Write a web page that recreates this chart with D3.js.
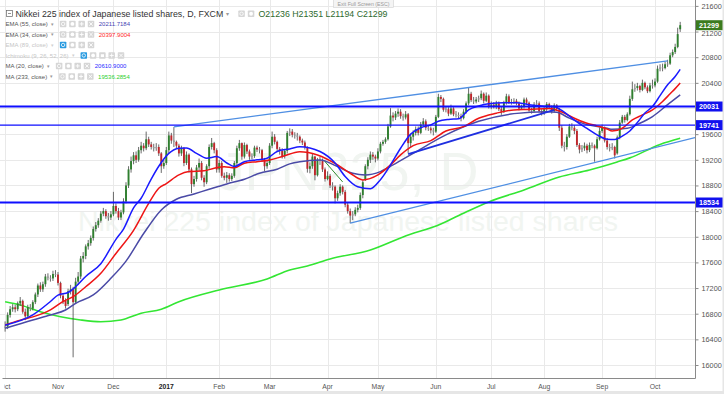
<!DOCTYPE html>
<html><head><meta charset="utf-8">
<script src="https://cdn.jsdelivr.net/npm/d3@7"></script>
<style>body{margin:0;background:#fff;}svg{display:block;font-family:"Liberation Sans",Arial,sans-serif;}</style>
</head><body><svg id="c" width="724" height="394"></svg>
<script>
// ---------------- DATA ----------------
const firstDay = "2016-10-03", lastDay = "2017-10-16";
const closedDays = ["2016-12-26", "2017-01-02"];

const opens = [
16580,16600,16780,16870,16900,16870,16960,17000,16830,16760,16900,16880,16980,17100,17240,17180,17260,17380,17360,17350,17420,
17410,17280,17080,17000,16950,17150,17180,16980,17300,17380,17660,17700,17850,17900,17980,18120,18180,18250,18360,18400,18320,18300,
18350,18480,18400,18300,18380,18550,18800,19050,19180,19270,19200,19350,19420,19380,19520,19440,19400,19380,19400,19300,19100,
19150,19350,19580,19500,19480,19420,19300,19380,19150,19280,19050,18820,18900,19080,19150,18920,18850,19100,19400,19460,19350,
19050,19150,18950,18920,18960,18900,18950,19150,19380,19460,19250,19430,19330,19250,19260,19390,19360,19350,19200,19100,
19150,19420,19560,19480,19370,19340,19260,19340,19620,19640,19590,19580,19560,19500,19470,19400,19060,19100,19250,18960,19200,19180,19050,
18900,18950,18800,18780,18600,18680,18780,18700,18500,18400,18330,18350,18420,18450,18650,18900,19100,19200,19280,19250,
19220,19330,19450,19480,19520,19720,19890,19860,19920,19950,19880,19860,19910,19460,19560,19620,19680,19620,19750,19800,19700,19690,19660,
19640,19870,20180,20150,19980,19990,19920,20000,19910,19900,19880,19850,19950,20080,20230,20130,20110,20140,20160,20230,20120,20200,
20030,20060,20030,20080,19990,19950,20090,20190,20100,20100,20120,20080,20000,20030,20140,20090,19970,19960,20060,20080,19960,
19930,19990,20070,20020,19960,20050,19990,19700,19420,19400,19560,19720,19700,19650,19430,19360,19380,19420,19350,19430,19420,19380,19520,
19650,19700,19500,19400,19380,19400,19300,19550,19780,19870,19820,19910,20150,20300,20320,20350,20290,20400,20330,20270,20360,
20360,20420,20620,20640,20630,20690,20700,20830,20880,20960,21236];
const highs = [
16680,16820,16920,16950,16940,16990,17060,17020,16880,16940,16950,17010,17130,17270,17290,17300,17420,17430,17400,17470,17480,
17450,17300,17120,17040,17190,17250,17220,17360,17450,17700,17760,17880,17950,18020,18160,18230,18290,18400,18450,18430,18370,18400,
18700,18520,18450,18420,18600,18850,19100,19250,19320,19330,19400,19480,19460,19640,19560,19480,19450,19460,19440,19320,19200,
19400,19640,19620,19710,19500,19450,19420,19400,19330,19300,19080,18950,19120,19220,19180,18960,19130,19440,19540,19480,19380,
19200,19180,19000,19010,18990,18990,19180,19420,19510,19470,19470,19450,19360,19300,19420,19420,19400,19370,19230,19190,
19460,19640,19600,19500,19400,19380,19370,19650,19690,19680,19630,19620,19580,19530,19500,19410,19160,19290,19260,19230,19250,19220,19080,
19020,18980,18850,18800,18720,18820,18800,18730,18540,18440,18400,18460,18500,18690,18880,19130,19240,19330,19320,19280,
19380,19480,19510,19550,19760,20005,19940,19960,20000,19990,19920,19960,19930,19600,19660,19720,19720,19790,19850,19830,19740,19720,19700,
19900,20230,20210,20170,20030,20020,20060,20020,19960,19940,19920,19990,20110,20320,20260,20180,20180,20200,20280,20250,20250,20220,
20110,20100,20120,20110,20030,20120,20230,20220,20150,20160,20150,20110,20060,20170,20170,20110,20010,20100,20130,20110,19990,
20030,20100,20090,20050,20080,20070,20010,19740,19480,19600,19760,19770,19740,19680,19460,19430,19470,19450,19470,19470,19440,19560,19700,
19750,19720,19540,19450,19460,19420,19580,19820,19900,19900,19940,20200,20420,20380,20400,20370,20450,20420,20360,20400,20450,
20470,20670,20690,20700,20730,20760,20870,20920,21010,21260,21351];
const lows = [
16520,16560,16740,16830,16820,16840,16920,16800,16700,16730,16840,16850,16950,17060,17140,17140,17220,17320,17300,17310,17370,
17240,17040,16950,16880,16920,17100,16120,16950,17250,17340,17600,17650,17800,17860,17940,18080,18140,18220,18320,18280,18250,18260,
18320,18360,18260,18260,18350,18520,18760,19000,19130,19150,19170,19300,19330,19350,19400,19360,19330,19340,19260,18995,19060,
19120,19300,19450,19400,19380,19250,19260,19100,19120,19000,18680,18780,18860,19030,18880,18780,18820,19060,19360,19300,19000,
19000,18920,18880,18840,18860,18870,18920,19120,19340,19200,19220,19290,19200,19210,19230,19320,19300,19170,19020,19060,
19120,19380,19440,19330,19280,19220,19220,19300,19570,19550,19530,19500,19460,19430,19360,19000,18990,19060,18880,18940,19120,19010,18860,
18880,18760,18720,18520,18560,18640,18660,18460,18360,18211,18260,18320,18380,18420,18600,18870,19050,19150,19200,19160,
19190,19300,19420,19450,19500,19700,19800,19820,19870,19840,19810,19830,19300,19400,19500,19580,19580,19600,19720,19660,19650,19610,19580,
19620,19850,20100,19950,19940,19880,19900,19880,19860,19840,19800,19830,19920,20050,20100,20070,20080,20100,20130,20080,20100,20000,
19990,20000,19990,19960,19900,19930,20060,20070,20060,20070,20050,19970,19980,20000,20060,19950,19920,19940,20030,19940,19890,
19900,19960,19990,19920,19940,19960,19650,19380,19330,19360,19540,19660,19600,19400,19300,19320,19340,19300,19320,19380,19170,19360,19500,
19620,19470,19360,19330,19350,19220,19280,19520,19760,19780,19800,19890,20120,20260,20280,20250,20270,20300,20240,20250,20310,
20330,20400,20580,20580,20610,20650,20680,20800,20850,20940,21194];
const closes = [
16600,16780,16870,16900,16870,16960,17000,16830,16760,16900,16880,16980,17100,17240,17180,17260,17380,17360,17350,17420,17410,
17280,17080,17000,16920,17150,17180,16980,17300,17380,17660,17700,17850,17900,17980,18120,18180,18250,18360,18400,18320,18300,18350,
18480,18400,18300,18380,18550,18800,19050,19180,19270,19200,19350,19420,19380,19520,19440,19400,19380,19400,19300,19100,19150,
19350,19580,19500,19480,19420,19300,19380,19150,19280,19050,18820,18900,19080,19150,18920,18850,19100,19400,19460,19350,19050,
19150,18950,18920,18960,18900,18950,19150,19380,19460,19250,19430,19330,19250,19260,19390,19360,19350,19200,19100,19150,
19420,19560,19480,19370,19340,19260,19340,19620,19640,19590,19580,19560,19500,19470,19400,19060,19100,19250,18960,19200,19180,19050,18900,
18950,18800,18780,18600,18680,18780,18700,18500,18400,18330,18350,18420,18450,18650,18850,19100,19200,19280,19250,19220,
19330,19450,19480,19520,19720,19890,19860,19920,19950,19880,19860,19910,19460,19560,19620,19680,19620,19750,19800,19700,19690,19660,19640,
19870,20180,20150,19980,19990,19920,20000,19910,19900,19880,19850,19950,20080,20230,20130,20110,20140,20160,20230,20120,20200,20030,
20060,20030,20080,19990,19950,20090,20190,20100,20100,20120,20080,20000,20030,20140,20090,19970,19960,20060,20080,19960,19930,
19990,20070,20020,19960,20050,19990,19700,19420,19400,19560,19720,19700,19650,19430,19360,19380,19420,19350,19430,19420,19380,19520,19650,
19700,19500,19400,19380,19400,19270,19550,19780,19870,19820,19910,20150,20300,20320,20350,20290,20400,20330,20270,20360,20360,
20420,20620,20640,20630,20690,20700,20830,20880,20960,21160,21299];

// indicator lines: [date, value]
const ma20 = [["2016-10-03",16620],["2016-10-18",16780],["2016-10-27",16990],["2016-11-01",17090],["2016-11-07",17130],["2016-11-10",17220],["2016-11-16",17380],["2016-11-24",17580],["2016-12-02",17960],["2016-12-07",18120],["2016-12-13",18450],["2016-12-16",18600],["2016-12-22",18900],["2016-12-28",19100],["2017-01-04",19300],["2017-01-10",19380],["2017-01-13",19385],["2017-01-19",19300],["2017-01-25",19225],["2017-01-31",19250],["2017-02-06",19150],["2017-02-09",19095],["2017-02-15",19170],["2017-02-22",19200],["2017-02-28",19225],["2017-03-06",19330],["2017-03-13",19370],["2017-03-17",19405],["2017-03-29",19330],["2017-04-06",19150],["2017-04-12",18940],["2017-04-19",18780],["2017-04-26",18750],["2017-05-02",18890],["2017-05-08",19120],["2017-05-12",19380],["2017-05-18",19600],["2017-05-24",19700],["2017-05-30",19745],["2017-06-02",19800],["2017-06-08",19830],["2017-06-14",19840],["2017-06-20",19980],["2017-06-26",20040],["2017-06-30",20075],["2017-07-10",20090],["2017-07-17",20090],["2017-07-24",20060],["2017-07-31",20040],["2017-08-07",20030],["2017-08-10",19970],["2017-08-15",19880],["2017-08-18",19790],["2017-08-24",19690],["2017-08-30",19590],["2017-09-05",19520],["2017-09-08",19515],["2017-09-13",19570],["2017-09-18",19650],["2017-09-21",19780],["2017-09-26",19930],["2017-09-29",20030],["2017-10-04",20200],["2017-10-09",20370],["2017-10-12",20500],["2017-10-16",20611]];
const ema34 = [["2016-10-03",16624],["2016-10-11",16700],["2016-10-18",16750],["2016-10-27",16860],["2016-11-03",16990],["2016-11-09",17065],["2016-11-16",17220],["2016-11-24",17430],["2016-12-02",17740],["2016-12-13",18100],["2016-12-21",18520],["2016-12-28",18756],["2017-01-03",18830],["2017-01-10",18964],["2017-01-16",19016],["2017-01-24",19030],["2017-01-30",19068],["2017-02-03",19093],["2017-02-09",19075],["2017-02-15",19147],["2017-02-22",19171],["2017-03-01",19198],["2017-03-08",19250],["2017-03-17",19327],["2017-03-28",19276],["2017-04-07",19120],["2017-04-14",18990],["2017-04-21",18886],["2017-05-01",18964],["2017-05-08",19120],["2017-05-12",19276],["2017-05-19",19420],["2017-05-30",19500],["2017-06-07",19650],["2017-06-16",19717],["2017-06-26",19848],["2017-07-05",19926],["2017-07-14",19978],["2017-07-24",19985],["2017-08-03",20000],["2017-08-09",19960],["2017-08-15",19890],["2017-08-17",19848],["2017-08-24",19770],["2017-08-30",19728],["2017-09-05",19680],["2017-09-07",19650],["2017-09-13",19692],["2017-09-19",19822],["2017-09-25",19900],["2017-09-29",19978],["2017-10-05",20110],["2017-10-10",20230],["2017-10-12",20310],["2017-10-16",20398]];
const ema55 = [["2016-10-03",16572],["2016-10-18",16702],["2016-10-27",16780],["2016-11-04",16858],["2016-11-10",16962],["2016-11-21",17092],["2016-11-30",17352],["2016-12-08",17620],["2016-12-19",18050],["2016-12-29",18418],["2017-01-09",18585],["2017-01-18",18668],["2017-01-26",18741],["2017-02-06",18824],["2017-02-15",18897],["2017-02-23",18990],["2017-03-06",19053],["2017-03-13",19136],["2017-03-17",19171],["2017-03-29",19198],["2017-04-07",19093],["2017-04-17",18990],["2017-04-24",18964],["2017-05-02",19016],["2017-05-09",19120],["2017-05-19",19300],["2017-06-07",19588],["2017-06-26",19800],["2017-07-14",19920],["2017-08-02",19950],["2017-08-08",19940],["2017-08-15",19850],["2017-08-23",19760],["2017-09-05",19692],["2017-09-07",19676],["2017-09-15",19692],["2017-09-22",19770],["2017-09-29",19874],["2017-10-09",20060],["2017-10-16",20212]];
const ma233 = [["2016-10-03",16987],["2016-10-11",16936],["2016-10-21",16831],["2016-11-02",16753],["2016-11-14",16702],["2016-11-24",16675],["2016-12-06",16702],["2016-12-16",16807],["2016-12-29",16869],["2017-01-10",16987],["2017-02-01",17170],["2017-02-28",17342],["2017-03-13",17482],["2017-03-22",17544],["2017-04-04",17654],["2017-04-26",17794],["2017-05-15",17997],["2017-06-05",18200],["2017-06-19",18387],["2017-06-30",18543],["2017-07-20",18730],["2017-08-09",18933],["2017-08-25",19042],["2017-09-11",19167],["2017-09-18",19230],["2017-10-04",19440],["2017-10-16",19536]];

// drawn trend lines (anchor points) and horizontal levels
const upperTrend = [["2017-01-06",19713],["2017-10-09",20742]];
const lowerTrend = [["2017-04-14",18211],["2017-09-08",19235]];
const midTrend = [["2017-05-17",19290],["2017-08-07",19978]];
const smallTrend = [["2017-03-31",19171],["2017-04-11",18855]];
const levels = [20031, 19741, 18534];
const yTicks = [16000,16400,16800,17200,17600,18000,18400,18800,19200,19600,20000,20400,20800,21200,21600];
const monthNames = ["Jan","Feb","Mar","Apr","May","Jun","Jul","Aug","Sep","Oct","Nov","Dec"];

const legendNames = ["EMA (55, close)","EMA (34, close)","EMA (89, close)","Ichimoku (9, 26, 52, 26)","MA (20, close)","MA (233, close)"];
const legendValues = ["20211.7184","20397.9004","","","20610.9000","19536.2854"];
const titleText = "Nikkei 225 index of Japanese listed shares, D, FXCM";
const ohlcText = "O21236 H21351 L21194 C21299";

// ---------------- CHART ----------------
const W = 724, H = 394, plotR = 695, plotB = 378;
const parse = d3.utcParse("%Y-%m-%d"), fmt = d3.utcFormat("%Y-%m-%d");
const allDays = d3.utcDay.range(parse(firstDay), d3.utcDay.offset(parse(lastDay), 1))
  .filter(d => d.getUTCDay() % 6 !== 0 && !closedDays.includes(fmt(d)));
const N = Math.min(allDays.length, closes.length);
const dates = allDays.slice(0, N);
const idxOf = new Map(dates.map((d, i) => [fmt(d), i]));

const x = d3.scaleLinear().domain([0, N - 1]).range([5.1, 680.2]);
const y = d3.scaleLinear().domain([16000, 21600]).range([365, 5.9]);

const svg = d3.select("#c");
svg.append("rect").attr("width", W).attr("height", H).attr("fill", "#fff");
const defs = svg.append("defs");
defs.append("clipPath").attr("id", "pc")
  .append("rect").attr("x", 0).attr("y", 0).attr("width", plotR).attr("height", plotB);
defs.append("clipPath").attr("id", "xc")
  .append("rect").attr("x", 4.5).attr("y", plotB).attr("width", plotR).attr("height", 20);

// watermark
const wm = svg.append("g").attr("fill", "#f1f5f1").attr("text-anchor", "middle");
wm.append("text").attr("x", 348).attr("y", 190).attr("font-size", 54).text("JPN225, D");
wm.append("text").attr("x", 348).attr("y", 231).attr("font-size", 28.5).text("Nikkei 225 index of Japanese listed shares");

// gridlines
const grid = svg.append("g").attr("stroke", "#e9e9e9").attr("stroke-width", 1);
grid.selectAll("line.h").data(yTicks).join("line")
  .attr("x1", 0).attr("x2", plotR).attr("y1", d => Math.round(y(d)) + 0.5).attr("y2", d => Math.round(y(d)) + 0.5);
const monthIdx = d3.range(N).filter(i => i === 0 || dates[i].getUTCMonth() !== dates[i - 1].getUTCMonth());
grid.selectAll("line.v").data(monthIdx).join("line")
  .attr("y1", 0).attr("y2", plotB).attr("x1", d => Math.round(x(d)) + 0.5).attr("x2", d => Math.round(x(d)) + 0.5);

const plot = svg.append("g").attr("clip-path", "url(#pc)");

// MA233 under candles
const line = d3.line().x(d => x(idxOf.get(d[0]))).y(d => y(d[1])).curve(d3.curveMonotoneX);
plot.append("path").datum(ma233).attr("d", line).attr("fill", "none").attr("stroke", "#33e633").attr("stroke-width", 1.6);

// candles
const cg = plot.append("g");
const candles = d3.range(N).map(i => ({i, o: opens[i], h: highs[i], l: lows[i], c: closes[i]}));
cg.selectAll("line").data(candles).join("line")
  .attr("x1", d => x(d.i)).attr("x2", d => x(d.i)).attr("y1", d => y(d.h)).attr("y2", d => y(d.l))
  .attr("stroke", "#444").attr("stroke-width", 0.8);
cg.selectAll("rect").data(candles).join("rect")
  .attr("x", d => x(d.i) - 0.95).attr("width", 1.9)
  .attr("y", d => y(Math.max(d.o, d.c)))
  .attr("height", d => Math.max(0.8, Math.abs(y(d.o) - y(d.c))))
  .attr("fill", d => Math.abs(d.c - d.o) < 25 ? "#9a9a9a" : (d.c > d.o ? "#2f7f2f" : "#c0262b"));

// moving averages
[[ema55, "#4a4aa6"], [ema34, "#ee1515"], [ma20, "#1a1aff"]].forEach(([data, col]) => {
  plot.append("path").datum(data).attr("d", line).attr("fill", "none").attr("stroke", col).attr("stroke-width", 1.5);
});

// trend lines
const pt = d => [x(idxOf.get(d[0])), y(d[1])];
function seg(a, b, col, w, extend) {
  let [x1, y1] = pt(a), [x2, y2] = pt(b);
  if (extend) { const k = (y2 - y1) / (x2 - x1); y2 = y2 + k * (plotR - x2); x2 = plotR; }
  plot.append("line").attr("x1", x1).attr("y1", y1).attr("x2", x2).attr("y2", y2)
    .attr("stroke", col).attr("stroke-width", w);
}
seg(upperTrend[0], upperTrend[1], "#4f8fe3", 1.3, false);
seg(lowerTrend[0], lowerTrend[1], "#4f8fe3", 1.3, true);
seg(midTrend[0], midTrend[1], "#1f2fe0", 1.8, false);
seg(smallTrend[0], smallTrend[1], "#2e8b2e", 1, false);

// horizontal levels
plot.selectAll("line.lvl").data(levels).join("line")
  .attr("x1", 0).attr("x2", plotR).attr("y1", d => y(d)).attr("y2", d => y(d))
  .attr("stroke", "#0f0fff").attr("stroke-width", (d, i) => i === 1 ? 1.4 : 2);

// axes
svg.append("line").attr("x1", plotR + 0.5).attr("x2", plotR + 0.5).attr("y1", 0).attr("y2", plotB + 0.5).attr("stroke", "#8a8a8a");
svg.append("line").attr("x1", 2.5).attr("x2", plotR + 0.5).attr("y1", plotB + 0.5).attr("y2", plotB + 0.5).attr("stroke", "#8a8a8a");
// tick labels hidden behind a level tag in the original are left out
const coveredTicks = yTicks.filter(t => levels.some(l => Math.abs(y(t) - y(l)) < 5));
const lastClose = closes[N - 1];
const yAxis = svg.append("g").attr("transform", `translate(${plotR + 0.5},0)`)
  .call(d3.axisRight(y).tickValues(yTicks).tickSize(3).tickPadding(3)
    .tickFormat(d => coveredTicks.includes(d) ? "" : d3.format("d")(d)));
yAxis.select(".domain").remove();
yAxis.selectAll("line").attr("stroke", "#8a8a8a");
yAxis.selectAll("text").attr("font-size", 7.3).attr("fill", "#555").attr("font-family", "Liberation Sans, Arial, sans-serif");
// nudge the label that sits just under the last-price tag
yAxis.selectAll(".tick").filter(d => Math.abs(y(d) - y(lastClose)) < 10)
  .select("text").attr("dy", "0.55em");

// x labels
svg.append("g").attr("clip-path", "url(#xc)").selectAll("text").data(monthIdx).join("text")
  .attr("x", d => x(d)).attr("y", 389).attr("text-anchor", "middle")
  .attr("font-size", 6.8)
  .attr("font-weight", d => dates[d].getUTCMonth() === 0 ? "bold" : "normal")
  .attr("fill", d => dates[d].getUTCMonth() === 0 ? "#222" : "#555")
  .text(d => dates[d].getUTCMonth() === 0 ? String(dates[d].getUTCFullYear()) : monthNames[dates[d].getUTCMonth()]);

// price labels on the right
function tag(v, col) {
  const g = svg.append("g");
  g.append("rect").attr("x", plotR + 1).attr("y", y(v) - 5).attr("width", W - plotR - 2).attr("height", 10).attr("fill", col);
  g.append("text").attr("x", plotR + 4).attr("y", y(v) + 2.4).attr("font-size", 7.2).attr("font-weight", "bold")
    .attr("fill", "#fff").text(v);
}
levels.forEach(v => tag(v, "#1111ee"));
tag(lastClose, "#3b7b1e");

// borders
svg.append("rect").attr("x", 0).attr("y", 391).attr("width", W).attr("height", 3).attr("fill", "#e6e6e6");
svg.append("rect").attr("x", 722.5).attr("y", 0).attr("width", 1.5).attr("height", H).attr("fill", "#e6e6e6");

// exit full screen button
svg.append("rect").attr("x", 333.5).attr("y", -1).attr("width", 60).attr("height", 8.5).attr("fill", "#f4f4f4").attr("stroke", "#d0d0d0").attr("stroke-width", 0.6);
svg.append("text").attr("x", 363.5).attr("y", 5.5).attr("text-anchor", "middle").attr("font-size", 5.2).attr("fill", "#999").text("Exit Full Screen (ESC)");

// legend
function icon(g, xx, yy, kind, blue) {
  g.append("rect").attr("x", xx).attr("y", yy).attr("width", 6.5).attr("height", 6.5).attr("rx", 0.8)
    .attr("fill", blue ? "#2a9be0" : "#d6d6d6");
  const cx = xx + 3.25, cy = yy + 3.25;
  if (kind === 0) g.append("circle").attr("cx", cx).attr("cy", cy).attr("r", 1.7).attr("fill", "none").attr("stroke", "#fff").attr("stroke-width", 0.8);
  else if (kind === 1) g.append("circle").attr("cx", cx).attr("cy", cy).attr("r", 1.9).attr("fill", "#fff");
  else if (kind === 2) { g.append("path").attr("d", `M${cx-2},${cy}H${cx+2}M${cx},${cy-2}V${cy+2}`).attr("stroke", "#fff").attr("stroke-width", 0.9); }
  else if (kind === 3) { g.append("path").attr("d", `M${cx-1.7},${cy-1.7}L${cx+1.7},${cy+1.7}M${cx+1.7},${cy-1.7}L${cx-1.7},${cy+1.7}`).attr("stroke", "#fff").attr("stroke-width", 0.9); }
  else { g.append("rect").attr("x", cx - 1.6).attr("y", cy - 1.2).attr("width", 3.2).attr("height", 2.8).attr("fill", "#fff"); }
}
const lg = svg.append("g");
// title row
lg.append("rect").attr("x", 6.5).attr("y", 10.5).attr("width", 6).attr("height", 6).attr("fill", "none").attr("stroke", "#666").attr("stroke-width", 0.7);
lg.append("line").attr("x1", 8).attr("x2", 11).attr("y1", 13.5).attr("y2", 13.5).attr("stroke", "#666").attr("stroke-width", 0.7);
const tt = lg.append("text").attr("x", 15.5).attr("y", 17).attr("font-size", 8.8).attr("fill", "#333").text(titleText);
const tw = tt.node().getComputedTextLength();
lg.append("text").attr("x", 15.5 + tw + 3).attr("y", 16).attr("font-size", 6).attr("fill", "#999").text("▾");
icon(lg, 15.5 + tw + 15, 10.5, 0, false);
icon(lg, 15.5 + tw + 24.5, 10.5, 1, false);
lg.append("text").attr("x", 258.5).attr("y", 17).attr("font-size", 8.8).attr("fill", "#2e6a2e").text(ohlcText);

const valueColors = ["#4646b4", "#ff2626", "", "", "#2a2aff", "#2ecf2e"];
legendNames.forEach((name, i) => {
  const by = 26.3 + i * 10.5;
  const on = legendValues[i] !== "";
  const t = lg.append("text").attr("x", 5.5).attr("y", by).attr("font-size", 6).attr("fill", on ? "#555" : "#c6c6c6").text(name);
  const w = t.node().getComputedTextLength();
  lg.append("text").attr("x", 5.5 + w + 3).attr("y", by - 0.5).attr("font-size", 5).attr("fill", on ? "#999" : "#d0d0d0").text("▾");
  const nIcons = name.startsWith("Ichimoku") ? 5 : 4;
  const kinds = nIcons === 5 ? [0, 1, 4, 2, 3] : [0, 1, 2, 3];
  let ix = 5.5 + w + 12;
  kinds.forEach((k, j) => { icon(lg, ix + j * 9.3, by - 5.6, k, !on && j === 0); });
  if (on) lg.append("text").attr("x", ix + (nIcons - 1) * 9.3 + 11).attr("y", by).attr("font-size", 6)
    .attr("fill", valueColors[i]).text(legendValues[i]);
});
</script></body></html>
